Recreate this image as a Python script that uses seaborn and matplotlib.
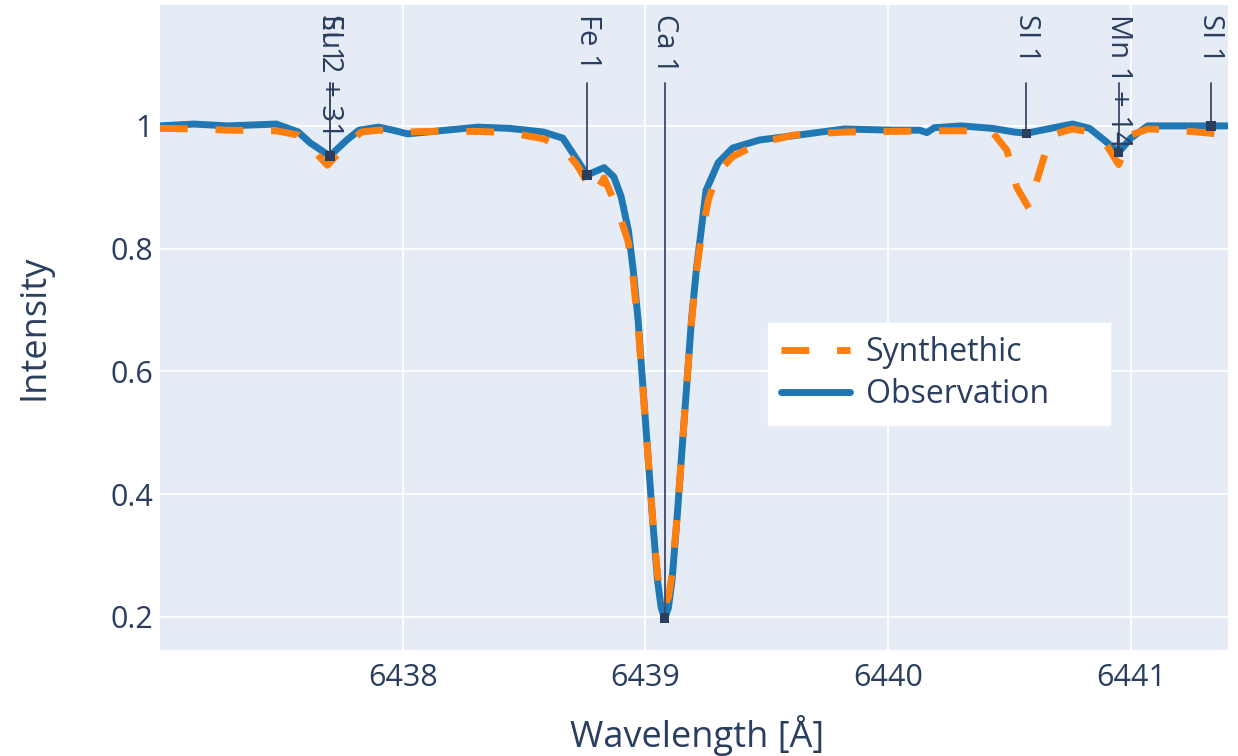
import matplotlib
matplotlib.use("Agg")
import matplotlib.pyplot as plt
from matplotlib.lines import Line2D
import seaborn as sns
import pandas as pd

# ---- data ----
wl_obs = [6437.00, 6437.14, 6437.28, 6437.48, 6437.57, 6437.62, 6437.70, 6437.77, 6437.82,
          6437.90, 6437.96, 6438.02, 6438.10, 6438.31, 6438.44, 6438.58, 6438.66, 6438.70,
          6438.76, 6438.83, 6438.87, 6438.90, 6438.93, 6438.95, 6438.97, 6438.99, 6439.01,
          6439.03, 6439.05, 6439.065, 6439.08, 6439.095, 6439.11, 6439.13, 6439.15, 6439.17,
          6439.19, 6439.21, 6439.23, 6439.25, 6439.30, 6439.36, 6439.47, 6439.61, 6439.82,
          6440.02, 6440.13, 6440.16, 6440.19, 6440.30, 6440.43, 6440.52, 6440.57, 6440.67,
          6440.76, 6440.83, 6440.89, 6440.95, 6441.00, 6441.07, 6441.19, 6441.33, 6441.40]
int_obs = [1.000, 1.003, 1.000, 1.003, 0.990, 0.972, 0.951, 0.977, 0.993,
           0.998, 0.993, 0.987, 0.990, 0.998, 0.996, 0.990, 0.980, 0.956,
           0.920, 0.932, 0.917, 0.885, 0.830, 0.765, 0.684, 0.575, 0.467,
           0.358, 0.260, 0.215, 0.198, 0.215, 0.260, 0.358, 0.467, 0.575,
           0.684, 0.765, 0.830, 0.895, 0.940, 0.964, 0.977, 0.984, 0.995,
           0.993, 0.993, 0.989, 0.997, 1.000, 0.996, 0.990, 0.988, 0.996,
           1.003, 0.996, 0.977, 0.957, 0.980, 1.000, 1.000, 1.000, 1.000]

wl_syn = [6437.00, 6437.14, 6437.28, 6437.48, 6437.57, 6437.62, 6437.69, 6437.77, 6437.83,
          6437.90, 6437.96, 6438.02, 6438.10, 6438.31, 6438.44, 6438.58, 6438.66, 6438.72,
          6438.79, 6438.83, 6438.88, 6438.91, 6438.93, 6438.95, 6438.97, 6438.99, 6439.01,
          6439.03, 6439.05, 6439.065, 6439.08, 6439.095, 6439.11, 6439.13, 6439.15, 6439.17,
          6439.19, 6439.21, 6439.23, 6439.26, 6439.30, 6439.36, 6439.47, 6439.61, 6439.82,
          6440.02, 6440.19, 6440.30, 6440.43, 6440.49, 6440.53, 6440.58, 6440.62, 6440.67,
          6440.76, 6440.83, 6440.89, 6440.95, 6441.00, 6441.07, 6441.19, 6441.33, 6441.40]
int_syn = [0.996, 0.995, 0.993, 0.992, 0.985, 0.965, 0.936, 0.970, 0.990,
           0.993, 0.992, 0.990, 0.991, 0.991, 0.989, 0.979, 0.965, 0.935,
           0.888, 0.915, 0.870, 0.835, 0.810, 0.750, 0.675, 0.570, 0.465,
           0.360, 0.270, 0.232, 0.220, 0.232, 0.270, 0.360, 0.467, 0.575,
           0.680, 0.760, 0.820, 0.880, 0.925, 0.950, 0.972, 0.985, 0.990,
           0.991, 0.992, 0.992, 0.990, 0.960, 0.900, 0.866, 0.920, 0.985,
           0.995, 0.990, 0.975, 0.937, 0.985, 0.995, 0.993, 0.988, 0.986]

line_labels = ["SI 1", "Eu 2 + 31", "Fe 1", "Ca 1", "SI 1", "Mn 1 + 14", "SI 1"]
line_wl = [6437.70, 6437.70, 6438.76, 6439.08, 6440.57, 6440.95, 6441.33]
line_int = [0.951, 0.951, 0.920, 0.198, 0.988, 0.957, 1.000]

x_ticks = [6438, 6439, 6440, 6441]
y_ticks = [0.2, 0.4, 0.6, 0.8, 1.0]
y_tick_labels = ["0.2", "0.4", "0.6", "0.8", "1"]

# ---- style ----
sns.set_theme(style="darkgrid", rc={
    "axes.facecolor": "#E5ECF6",
    "figure.facecolor": "white",
    "grid.color": "white",
    "grid.linewidth": 1.3,
    "axes.edgecolor": "white",
})
plt.rcParams["font.family"] = ["Open Sans", "DejaVu Sans"]
text_color = "#2a3f5f"

fig = plt.figure(figsize=(12.38, 7.56), dpi=100)
ax = fig.add_axes([0.1292, 0.1402, 0.8628, 0.8532])

obs = pd.DataFrame({"wl": wl_obs, "I": int_obs})
syn = pd.DataFrame({"wl": wl_syn, "I": int_syn})

blue = "#1f77b4"
orange = "#ff7f0e"

sns.lineplot(data=obs, x="wl", y="I", ax=ax, color=blue, linewidth=5, sort=False,
             estimator=None, zorder=3)
sns.lineplot(data=syn, x="wl", y="I", ax=ax, color=orange, linewidth=5, sort=False,
             estimator=None, linestyle=(0, (4, 4)), zorder=4)

# annotation lines + markers
ann_color = "#3d4a66"
for lab, xw, yi in zip(line_labels, line_wl, line_int):
    ax.plot([xw, xw], [1.07, yi], color=ann_color, linewidth=1.3, zorder=5)
    ax.text(xw, 1.183, lab, rotation=-90, ha="center", va="top", fontsize=21,
            color=text_color, zorder=6)
sns.scatterplot(x=line_wl, y=line_int, ax=ax, marker="s", s=45, color="#2a3f5f",
                edgecolor="none", zorder=7)

ax.set_xlim(6437.0, 6441.401)
ax.set_ylim(0.146, 1.197)
ax.set_xticks(x_ticks)
ax.set_xticklabels([str(t) for t in x_ticks])
ax.set_yticks(y_ticks)
ax.set_yticklabels(y_tick_labels)
ax.tick_params(axis="both", colors=text_color, labelsize=22, length=0)
ax.tick_params(axis="x", pad=9)
ax.tick_params(axis="y", pad=5)
for s in ax.spines.values():
    s.set_visible(False)

ax.set_xlabel("Wavelength [Å]", fontsize=26, color=text_color)
ax.set_ylabel("Intensity", fontsize=26, color=text_color)
ax.xaxis.set_label_coords(0.503, -0.100)
ax.yaxis.set_label_coords(-0.101, 0.5)

handles = [Line2D([0], [0], color=orange, linewidth=5, linestyle=(0, (4, 4))),
           Line2D([0], [0], color=blue, linewidth=5)]
leg = ax.legend(handles, ["Synthethic", "Observation"], loc="upper left",
                bbox_to_anchor=(0.569, 0.355, 0.3205, 0.152), mode="expand",
                frameon=True, fancybox=False,
                facecolor="white", edgecolor="white", framealpha=1,
                fontsize=23, handlelength=2.15, handletextpad=0.5,
                borderpad=0.42, labelspacing=0.28, borderaxespad=0)
for t in leg.get_texts():
    t.set_color(text_color)
leg.set_zorder(10)

fig.savefig("out.png", dpi=100)
